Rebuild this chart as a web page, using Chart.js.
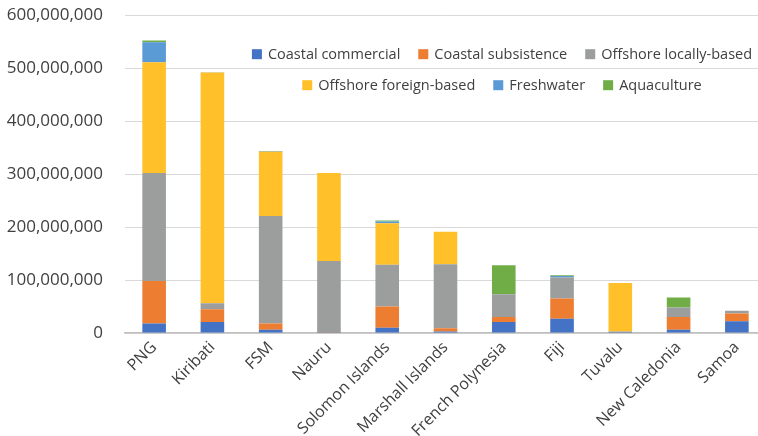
<!DOCTYPE html>
<html>
<head>
<meta charset="utf-8">
<script src="https://cdn.jsdelivr.net/npm/chart.js@4"></script>
<style>
  html, body { margin: 0; padding: 0; background: #fff; overflow: hidden; }
  #wrap { width: 758px; height: 436px; overflow: hidden; }
  #fishChart { display: block; margin-top: -17px; }
</style>
</head>
<body>
<div id="wrap"><canvas id="fishChart" width="766" height="453"></canvas></div>
<script>
// categories
const countries = ["PNG", "Kiribati", "FSM", "Nauru", "Solomon Islands", "Marshall Islands",
    "French Polynesia", "Fiji", "Tuvalu", "New Caledonia", "Samoa"];

// series values
const coastalCommercial = [18000000, 21000000, 6000000, 500000, 10000000, 3000000, 21000000, 27000000, 300000, 6000000, 22000000];
const coastalSubsistence = [80000000, 24000000, 12000000, 500000, 40000000, 6000000, 9000000, 38000000, 300000, 24000000, 15000000];
const offshoreLocal = [204000000, 11000000, 203000000, 135000000, 79000000, 121000000, 43000000, 40000000, 2000000, 18000000, 5000000];
const offshoreForeign = [209000000, 436000000, 121000000, 166000000, 78000000, 61000000, 0, 0, 92000000, 0, 0];
const freshwater = [38000000, 300000, 500000, 0, 3500000, 0, 0, 2500000, 0, 0, 0];
const aquaculture = [3000000, 0, 1000000, 0, 2000000, 0, 55000000, 1500000, 0, 19000000, 0];

const seriesNames = ["Coastal commercial", "Coastal subsistence", "Offshore locally-based",
    "Offshore foreign-based", "Freshwater", "Aquaculture"];
const seriesColors = ["#4472C4", "#ED7D31", "#9C9E9E", "#FFC02A", "#5B9BD5", "#70AD47"];

const FONT = "'Open Sans', sans-serif";
const TEXT = "#404040";

// legend sits inside the plot, two centred rows like the original
const insideLegend = {
    id: "insideLegend",
    afterDraw(chart) {
        const ctx = chart.ctx;
        const rows = [[0, 1, 2], [3, 4, 5]];
        const top = chart.chartArea.top;
        const rowY = [top + 39, top + 70];
        const centerX = 502;
        const box = 10, gapText = 6, gapItem = 18;
        ctx.save();
        ctx.font = "14.5px " + FONT;
        ctx.textBaseline = "middle";
        rows.forEach(function (row, r) {
            const widths = row.map(i => box + gapText + ctx.measureText(chart.data.datasets[i].label).width);
            const total = widths.reduce((a, b) => a + b, 0) + gapItem * (row.length - 1);
            let x = centerX - total / 2;
            row.forEach(function (i, k) {
                const ds = chart.data.datasets[i];
                ctx.fillStyle = ds.backgroundColor;
                ctx.fillRect(x, rowY[r] - box / 2, box, box);
                ctx.fillStyle = TEXT;
                ctx.fillText(ds.label, x + box + gapText, rowY[r] + 1);
                x += widths[k] + gapItem;
            });
        });
        ctx.restore();
    }
};

const allSeries = [coastalCommercial, coastalSubsistence, offshoreLocal, offshoreForeign, freshwater, aquaculture];

new Chart(document.getElementById("fishChart").getContext("2d"), {
    type: "bar",
    data: {
        labels: countries,
        datasets: allSeries.map(function (vals, i) {
            return {
                label: seriesNames[i],
                data: vals,
                backgroundColor: seriesColors[i],
                borderWidth: 0,
                categoryPercentage: 1,
                barPercentage: 0.405
            };
        })
    },
    options: {
        responsive: false,
        animation: false,
        layout: { padding: 0 },
        plugins: {
            legend: { display: false },
            tooltip: { enabled: false }
        },
        scales: {
            x: {
                stacked: true,
                grid: { display: false, drawTicks: false },
                border: { display: true, color: "#BFBFBF", width: 1.5 },
                ticks: {
                    color: TEXT,
                    font: { family: FONT, size: 16 },
                    minRotation: 45,
                    maxRotation: 45,
                    padding: 5,
                    autoSkip: false
                },
                afterFit(scale) { scale.height = 103; }
            },
            y: {
                stacked: true,
                min: 0,
                max: 600000000,
                grid: { color: "#D9D9D9", lineWidth: 1, drawTicks: false },
                border: { display: false },
                ticks: {
                    stepSize: 100000000,
                    color: TEXT,
                    font: { family: FONT, size: 17 },
                    padding: 22
                },
                afterFit(scale) { scale.width = 125; }
            }
        }
    },
    plugins: [insideLegend]
});
</script>
</body>
</html>
